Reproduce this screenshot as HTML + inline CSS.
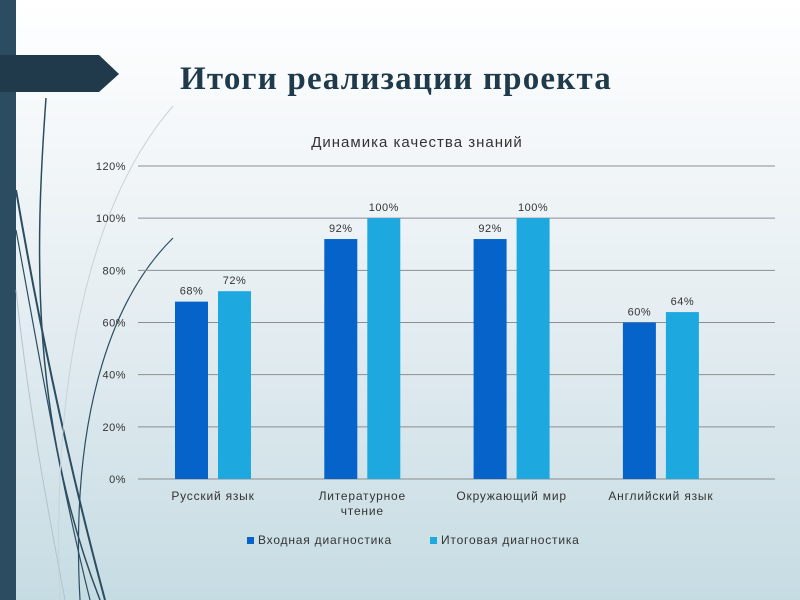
<!DOCTYPE html>
<html><head><meta charset="utf-8"><style>
body{margin:0;width:800px;height:600px;overflow:hidden;font-family:"Liberation Sans","DejaVu Sans",sans-serif}
svg{display:block}
</style></head><body>
<svg width="800" height="600">
<defs><linearGradient id="bg" x1="0" y1="0" x2="0" y2="1"><stop offset="0" stop-color="#ffffff"/><stop offset="0.5" stop-color="#e6eef2"/><stop offset="1" stop-color="#c6dce3"/></linearGradient></defs>
<rect width="800" height="600" fill="url(#bg)"/>
<rect x="0" y="0" width="16" height="600" fill="#2c4d61"/>
<polygon points="0,55 99,55 119,74 99,92 0,92" fill="#203a4b"/>
<g fill="none" stroke="#2c4d61">
<path d="M46,98 C35,250 30,420 100,600" stroke-width="1.5"/>
<path d="M16,190 C40,330 70,470 105,600" stroke-width="2"/>
<path d="M16,230 C40,360 60,480 90,600" stroke-width="1.2"/>
<path d="M173,238 C110,300 70,420 80,600" stroke-width="1.2"/>
<path d="M173,106 C100,190 50,350 60,600" stroke="#c8d2d8" stroke-width="1"/>
<path d="M16,290 C30,420 50,520 65,600" stroke="#b0c4cc" stroke-width="1"/>
</g>
<text x="180" y="89" font-family="Liberation Serif,serif" font-weight="bold" font-size="33" letter-spacing="1.2" fill="#1f3a4b">Итоги реализации проекта</text>
<text x="417" y="147" text-anchor="middle" font-size="15" letter-spacing="1" fill="#333">Динамика качества знаний</text>
<g id="chart"></g>
<g font-size="12" letter-spacing="0.8" fill="#333">
<rect x="247" y="537" width="7" height="7" fill="#0563c9"/>
<text x="258" y="544">Входная диагностика</text>
<rect x="430" y="537" width="7" height="7" fill="#1ea8e0"/>
<text x="441" y="544">Итоговая диагностика</text>
</g>
</svg>
<script>
const categories=[["Русский язык"],["Литературное","чтение"],["Окружающий мир"],["Английский язык"]];
const seriesInput=[68,92,92,60];
const seriesFinal=[72,100,100,64];
const ticks=[0,20,40,60,80,100,120];
const NS="http://www.w3.org/2000/svg";
const g=document.getElementById("chart");
const x0=138,x1=775,yTop=166,yBot=479,maxV=120;
const y=v=>yBot-(v/maxV)*(yBot-yTop);
const band=149.3;
const cx=i=>x0+75+band*i;
function mk(t,a,txt){const e=document.createElementNS(NS,t);for(const k in a)e.setAttribute(k,a[k]);if(txt!==undefined)e.textContent=txt;g.appendChild(e);return e;}
ticks.forEach(t=>{
 const l=mk("line",{x1:x0,x2:x1,y1:y(t),y2:y(t),stroke:"#8a8f93","stroke-width":1});
 
 
 const tx=mk("text",{x:126,y:y(t)+4,"text-anchor":"end","font-size":11,"letter-spacing":0.5,fill:"#333"},t+"%");
 
 
});
const bw=33,gap=10;
[[seriesInput,"#0563c9",-1],[seriesFinal,"#1ea8e0",1]].forEach(([s,c,side])=>{
 s.forEach((v,i)=>{
  const bx=side<0?cx(i)-gap/2-bw:cx(i)+gap/2;
  const r=mk("rect",{x:bx,y:y(v),width:bw,height:yBot-y(v),fill:c});
  
  
  const t=mk("text",{x:bx+bw/2,y:y(v)-7,"text-anchor":"middle","font-size":11,"letter-spacing":0.5,fill:"#333"},v+"%");
  
  
 });
});
categories.forEach((lines,i)=>{
 lines.forEach((ln,j)=>{
  const t=mk("text",{x:cx(i),y:500+j*15,"text-anchor":"middle","font-size":12,"letter-spacing":0.8,fill:"#333"},ln);
  
  
 });
});
</script>
</body></html>
